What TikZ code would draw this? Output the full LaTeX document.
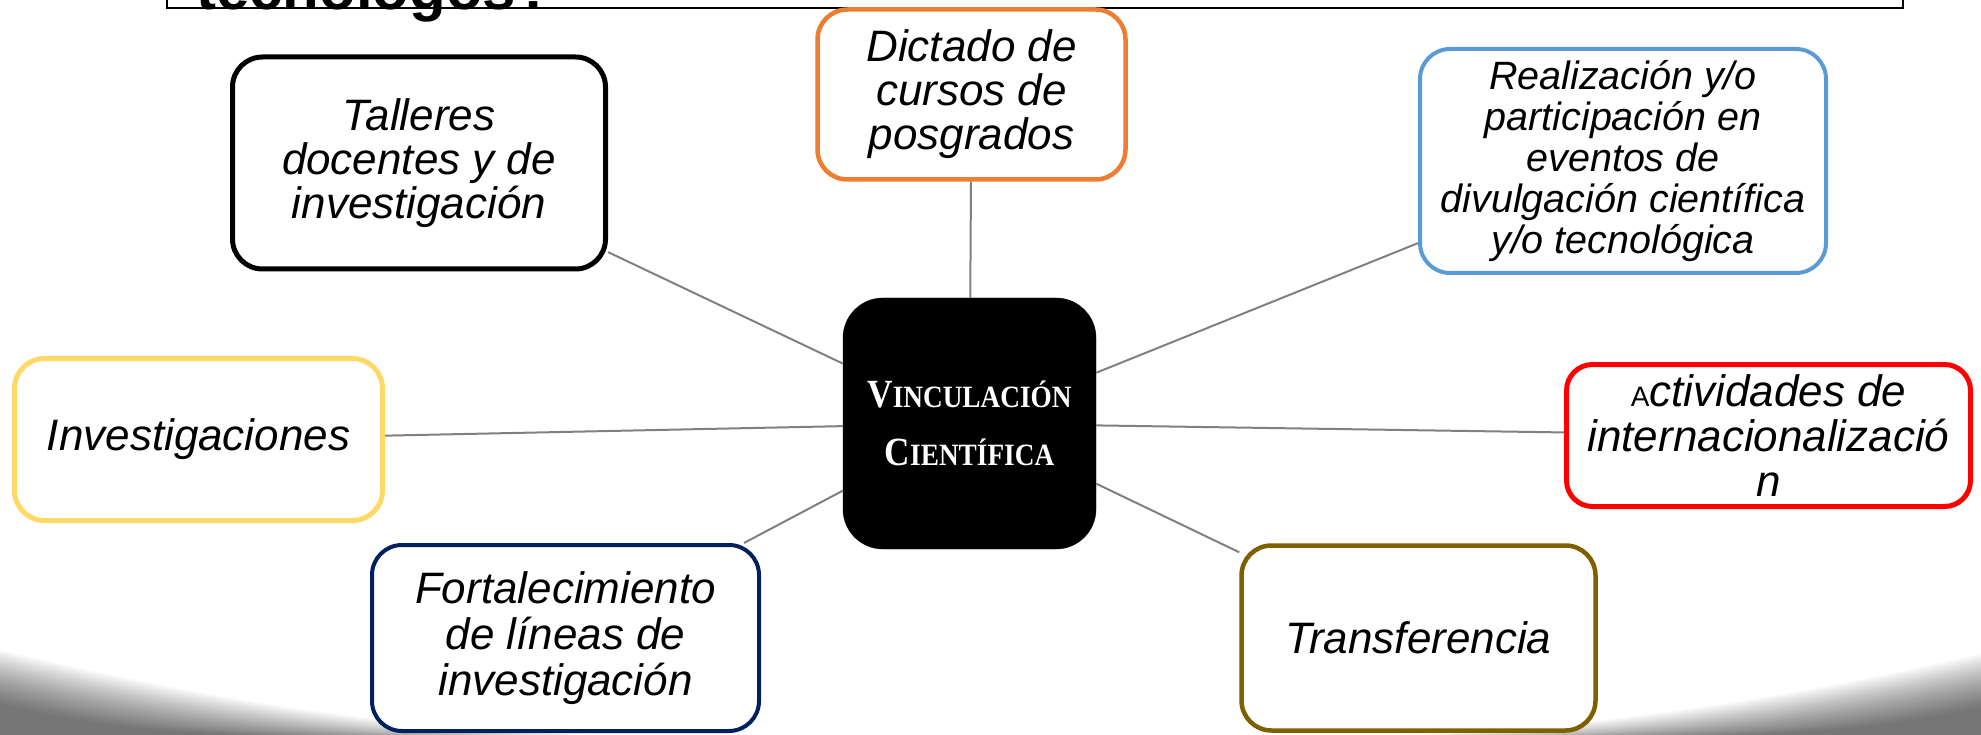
\documentclass[tikz,border=0pt]{standalone}
\usepackage{fontspec}
\setmainfont{Liberation Sans}
\newfontfamily\ctrfont{Liberation Serif}[FakeStretch=0.88]
\definecolor{cOrange}{HTML}{ED7D31}
\definecolor{cBlue}{HTML}{5B9BD5}
\definecolor{cYellow}{HTML}{FFD966}
\definecolor{cRed}{HTML}{FF0000}
\definecolor{cNavy}{HTML}{002060}
\definecolor{cOlive}{HTML}{7F6000}
\definecolor{cLink}{HTML}{808080}
\tikzset{
  box/.style={draw, fill=white, rounded corners=30pt, line width=4.5pt, align=center,
    inner sep=0pt, font=\fontsize{44}{44}\selectfont\itshape},
  center box/.style={draw=black, fill=black, text=white, rounded corners=40pt, align=center,
    inner sep=0pt, font=\ctrfont\bfseries\fontsize{31}{58}\selectfont},
  link/.style={draw=cLink, line width=2pt},
  titlebar/.style={draw=black, fill=white, line width=2.5pt},
  shade layer/.style={fill=black, opacity=0.028}
}
\begin{document}
\begin{tikzpicture}[x=1pt, y=-1pt]
\useasboundingbox (0,0) rectangle (1981,735);
\clip (0,0) rectangle (1981,735);
% bottom page shadow (soft, built from translucent layers)
\foreach \k in {0,...,27} {
  \path[shade layer] (0,{650+2*\k}) .. controls ({160-4*\k},{688+\k}) and ({360-10*\k},728) .. ({590-13*\k},735) -- (0,735) -- cycle;
  \path[shade layer] (1981,{654+2*\k}) .. controls ({1821+4*\k},{690+\k}) and ({1621+10*\k},728) .. ({1400+13*\k},735) -- (1981,735) -- cycle;
}
% cut-off title
\node[titlebar, minimum width=1736pt, minimum height=70pt, inner sep=0pt] (bar) at (1035,-27) {};
\node[anchor=base west, inner sep=0pt, font=\fontsize{60}{60}\selectfont\bfseries] (title) at (196,9.5) {tecnólogos?};
% nodes
\node[center box, minimum width=253pt, minimum height=251pt] (ctr) at (969.5,423.5)
  {{\fontsize{40}{58}\selectfont V}INCULACIÓN\\{\fontsize{40}{58}\selectfont C}IENTÍFICA};
\node[box, draw=black, line width=5pt, minimum width=373pt, minimum height=212pt] (tall) at (419,163)
  {Talleres\\docentes y de\\investigación};
\node[box, draw=cOrange, minimum width=308pt, minimum height=170pt] (dict) at (971.5,94.5)
  {Dictado de\\cursos de\\posgrados};
\node[box, draw=cBlue, line width=4pt, minimum width=406pt, minimum height=224pt,
  font=\fontsize{39.5}{41}\selectfont\itshape] (real) at (1623,161)
  {Realización y/o\\participación en\\eventos de\\divulgación científica\\y/o tecnológica};
\node[box, draw=cYellow, line width=5pt, minimum width=368pt, minimum height=162pt] (inv) at (198.5,439.5)
  {Investigaciones};
\node[box, draw=cRed, line width=5pt, minimum width=404pt, minimum height=142pt, rounded corners=26pt,
  font=\fontsize{44}{45}\selectfont\itshape] (act) at (1768.5,435.5)
  {{\upshape\fontsize{28}{45}\selectfont A}ctividades de\\internacionalizació\\n};
\node[box, draw=cNavy, line width=4pt, minimum width=387pt, minimum height=186pt,
  font=\fontsize{44}{46}\selectfont\itshape] (fort) at (565.5,638)
  {Fortalecimiento\\de líneas de\\investigación};
\node[box, draw=cOlive, line width=4.5pt, minimum width=354pt, minimum height=185pt] (trans) at (1418.5,638)
  {Transferencia};
% connectors
\draw[link] (tall) -- (ctr);
\draw[link] (dict) -- (ctr);
\draw[link] (real) -- (ctr);
\draw[link] (inv) -- (ctr);
\draw[link] (act) -- (ctr);
\draw[link] (fort) -- (ctr);
\draw[link] (trans) -- (ctr);
\end{tikzpicture}
\end{document}
